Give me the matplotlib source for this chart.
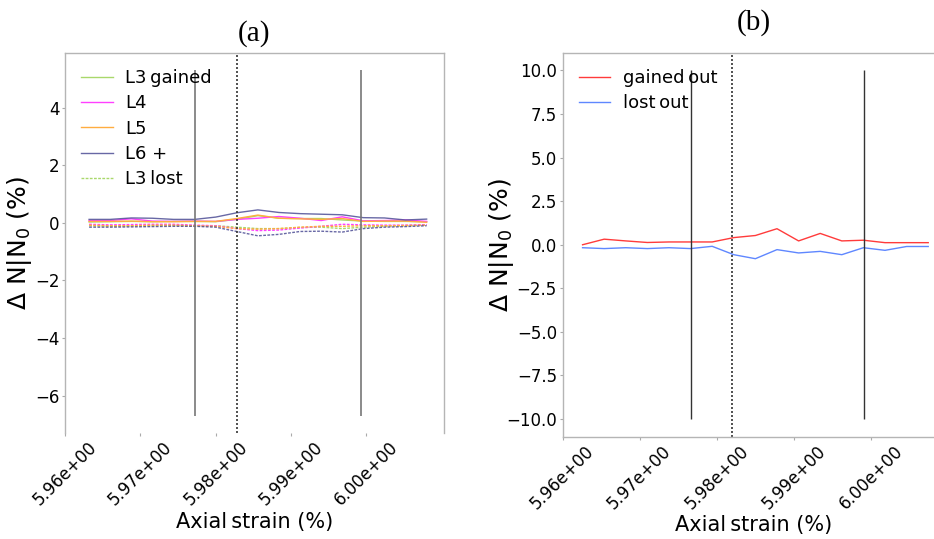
import matplotlib
matplotlib.use("Agg")
import matplotlib.pyplot as plt
from matplotlib.ticker import FormatStrFormatter

# ---------------- data ----------------
strain_a = [5.9632, 5.9660, 5.9688, 5.9716, 5.9744, 5.9772, 5.9800, 5.9828, 5.9856,
            5.9884, 5.9912, 5.9940, 5.9968, 5.9996, 6.0024, 6.0052, 6.0080]
strain_b = [5.9626, 5.9654, 5.9682, 5.9710, 5.9738, 5.9766, 5.9794, 5.9822, 5.9850,
            5.9878, 5.9906, 5.9934, 5.9962, 5.9990, 6.0018, 6.0046, 6.0074]

l3_gained = [0.03, 0.04, 0.05, 0.04, 0.05, 0.05, 0.04, 0.12, 0.25, 0.16, 0.15, 0.15, 0.10, 0.06, 0.05, 0.05, 0.04]
l4_gained = [0.08, 0.08, 0.14, 0.06, 0.05, 0.06, 0.05, 0.12, 0.16, 0.22, 0.16, 0.08, 0.21, 0.07, 0.08, 0.10, 0.05]
l5_gained = [0.05, 0.05, 0.06, 0.04, 0.04, 0.05, 0.05, 0.15, 0.27, 0.16, 0.14, 0.12, 0.15, 0.05, 0.06, 0.06, 0.02]
l6_gained = [0.12, 0.12, 0.17, 0.16, 0.12, 0.12, 0.20, 0.35, 0.45, 0.36, 0.32, 0.30, 0.28, 0.18, 0.17, 0.10, 0.13]

l3_lost = [-0.10, -0.12, -0.11, -0.10, -0.09, -0.10, -0.10, -0.15, -0.20, -0.20, -0.16, -0.15, -0.20, -0.15, -0.12, -0.10, -0.08]
l4_lost = [-0.05, -0.07, -0.06, -0.05, -0.05, -0.08, -0.10, -0.20, -0.27, -0.25, -0.18, -0.12, -0.05, -0.07, -0.08, -0.08, -0.06]
l5_lost = [-0.08, -0.10, -0.10, -0.08, -0.08, -0.10, -0.12, -0.20, -0.22, -0.20, -0.15, -0.12, -0.12, -0.10, -0.10, -0.09, -0.08]
l6_lost = [-0.15, -0.15, -0.14, -0.13, -0.12, -0.12, -0.15, -0.30, -0.45, -0.40, -0.30, -0.29, -0.32, -0.20, -0.15, -0.13, -0.10]

gained_out = [0.00, 0.32, 0.22, 0.13, 0.16, 0.16, 0.16, 0.41, 0.53, 0.92, 0.22, 0.65, 0.22, 0.26, 0.12, 0.12, 0.12]
lost_out = [-0.17, -0.22, -0.17, -0.22, -0.17, -0.22, -0.09, -0.57, -0.80, -0.28, -0.47, -0.38, -0.57, -0.17, -0.32, -0.10, -0.10]

vlines_a = [5.9772, 5.9993]
vrange_a = (-6.7, 5.3)
dotted_a = 5.9828
vlines_b = [5.9767, 5.9991]
vrange_b = (-10.0, 10.0)
dotted_b = 5.9820

xticks = [5.96, 5.97, 5.98, 5.99, 6.00]
yticks_a = [-6, -4, -2, 0, 2, 4]
yticks_b = [-10.0, -7.5, -5.0, -2.5, 0.0, 2.5, 5.0, 7.5, 10.0]

legend_a = ["L3\u2009gained", "L4", "L5", "L6 +", "L3\u2009lost"]
legend_b = ["gained\u2009out", "lost\u2009out"]
xlabel = "Axial\u2009strain (%)"
ylabel = r"$\Delta$ N$|$N$_0$ (%)"

# ---------------- figure ----------------
plt.rcParams['font.family'] = ['DejaVu Sans']
fig = plt.figure(figsize=(9.34, 5.39), dpi=100)
ax1 = fig.add_axes([65 / 934, (539 - 433) / 539, 378.5 / 934, 380 / 539])
ax2 = fig.add_axes([562.5 / 934, (539 - 436.5) / 539, 383 / 934, 383.5 / 539])

c_l3 = '#a9d86b'
c_l4 = '#ff40ff'
c_l5 = '#ffad40'
c_l6 = '#4e4e96'

lw = 1.0
dash = (0, (2, 1))
ax1.plot(strain_a, l3_gained, color=c_l3, lw=lw, label=legend_a[0])
ax1.plot(strain_a, l4_gained, color=c_l4, lw=lw, label=legend_a[1])
ax1.plot(strain_a, l5_gained, color=c_l5, lw=lw, label=legend_a[2])
ax1.plot(strain_a, l6_gained, color=c_l6, lw=lw, alpha=0.85, label=legend_a[3])
ax1.plot(strain_a, l3_lost, color=c_l3, lw=lw, ls=dash, label=legend_a[4])
ax1.plot(strain_a, l4_lost, color=c_l4, lw=lw, ls=dash)
ax1.plot(strain_a, l5_lost, color=c_l5, lw=lw, ls=dash)
ax1.plot(strain_a, l6_lost, color=c_l6, lw=lw, alpha=0.85, ls=dash)
ax1.vlines(vlines_a, vrange_a[0], vrange_a[1], color='#777777', lw=1.2)
ax1.axvline(dotted_a, color='#333333', lw=1.2, ls=(0, (1.2, 1.2)))

ax2.plot(strain_b, gained_out, color='#ff3b3b', lw=lw, label=legend_b[0])
ax2.plot(strain_b, lost_out, color='#5f87ff', lw=lw, label=legend_b[1])
ax2.vlines(vlines_b, vrange_b[0], vrange_b[1], color='#333333', lw=1.0)
ax2.axvline(dotted_b, color='#333333', lw=1.2, ls=(0, (1.2, 1.2)))

for ax, yt in ((ax1, yticks_a), (ax2, yticks_b)):
    ax.set_xticks(xticks)
    ax.xaxis.set_major_formatter(FormatStrFormatter('%.2e'))
    ax.set_yticks(yt)
    ax.tick_params(axis='both', labelsize=12, length=2, width=0.8, color='#aaaaaa', pad=2)
    ax.tick_params(axis='x', labelrotation=45)
    for s in ax.spines.values():
        s.set_color('#b5b5b5')
        s.set_linewidth(1.0)
    ax.set_xlabel(xlabel, fontsize=15, labelpad=2)
    ax.set_ylabel(ylabel, fontsize=18)

ax1.yaxis.set_label_coords(-0.083, 0.5)
ax2.yaxis.set_label_coords(-0.122, 0.5)
ax1.spines['bottom'].set_visible(False)

for ax in (ax1, ax2):
    ax.legend(loc='upper left', frameon=False, fontsize=13, handlelength=1.75,
              handletextpad=0.7, labelspacing=0.4, borderaxespad=0.5)

ax1.set_title("(a)", fontsize=21, family='Liberation Serif', pad=9)
ax2.set_title("(b)", fontsize=21, family='Liberation Serif', pad=17)

fig.savefig("out.png", dpi=100)
